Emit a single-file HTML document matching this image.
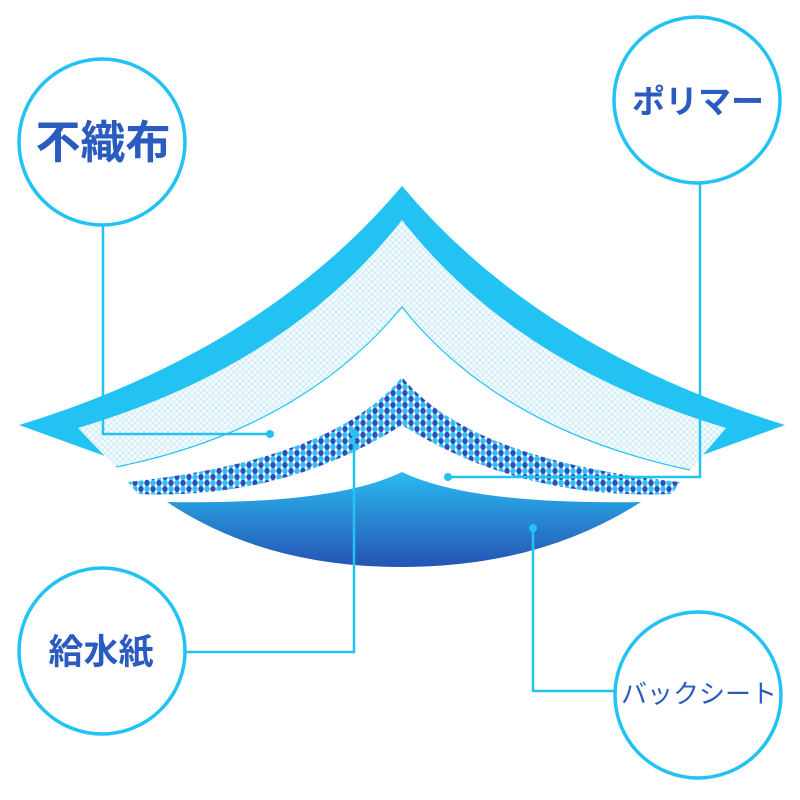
<!DOCTYPE html>
<html><head><meta charset="utf-8"><style>
html,body{margin:0;padding:0;background:#fff;}
svg{display:block;}
text{font-family:"Liberation Sans","Noto Sans CJK JP",sans-serif;fill:#2a5cc0;font-weight:bold;}
</style></head><body>
<svg width="800" height="800" viewBox="0 0 800 800" xmlns="http://www.w3.org/2000/svg">
<defs>
<pattern id="mesh" width="6" height="6" patternUnits="userSpaceOnUse">
<rect width="6" height="6" fill="#f4fbfe"/>
<path d="M0 0L6 6M6 0L0 6" stroke="#b8e6f7" stroke-width="0.6"/>
</pattern>
<pattern id="dots" width="12" height="12" patternUnits="userSpaceOnUse">
<rect width="12" height="12" fill="#fff"/>
<ellipse cx="3" cy="3" rx="2.7" ry="3.2" fill="#2a4fc0"/>
<ellipse cx="9" cy="9" rx="2.7" ry="3.2" fill="#2a4fc0"/>
<ellipse cx="9" cy="3" rx="2.7" ry="3.2" fill="#2fc2ee"/>
<ellipse cx="3" cy="9" rx="2.7" ry="3.2" fill="#2fc2ee"/>
</pattern>
<linearGradient id="blue" x1="0" y1="0" x2="0" y2="1">
<stop offset="0" stop-color="#2bbaf0"/>
<stop offset="1" stop-color="#2453b4"/>
</linearGradient>
</defs>

<path d="M402 186 Q540 350 785 425 L667 468 Q402 470 138 468 L19 425 Q264 350 402 186Z" fill="#22c3f3"/>
<path d="M402 220 Q515 365 726 428 L690 470 L118 470 L78 428 Q289 365 402 220Z" fill="url(#mesh)"/>
<path d="M402 307 Q500 430 690 470 L690 500 L116 500 L116 467 Q300 430 402 307Z" fill="#fff"/>
<path d="M116 467 Q300 430 402 307 Q500 430 690 470" fill="none" stroke="#22c3f3" stroke-width="1.2"/>
<path d="M402 377 Q470 460 680 482 L672 494 Q520 500 402 425 Q284 500 138 494 L128 482 Q334 460 402 377Z" fill="url(#dots)"/>
<path d="M402 472 Q470 505 641 502 Q540 567 402 567 Q264 567 167 502 Q334 505 402 472Z" fill="url(#blue)"/>

<g stroke="#22c3f3" stroke-width="2.5" fill="none">
<path d="M103 226 V434 H270"/>
<path d="M700 183 V477 H448"/>
<path d="M354 433 V652 H186"/>
<path d="M533 528 V691 H614"/>
</g>
<g fill="#22c3f3">
<circle cx="270" cy="434" r="4"/>
<circle cx="448" cy="477" r="4"/>
<circle cx="354" cy="433" r="4"/>
<circle cx="533" cy="528" r="4"/>
</g>

<g stroke="#22c3f3" stroke-width="3.5" fill="#fff">
<circle cx="102" cy="142" r="83"/>
<circle cx="697" cy="100" r="83"/>
<circle cx="102" cy="651" r="83"/>
<circle cx="698" cy="695" r="83"/>
</g>
<text x="103" y="158" font-size="45" text-anchor="middle">不織布</text>
<text x="698" y="113" font-size="33" text-anchor="middle">ポリマー</text>
<text x="101" y="664" font-size="35" text-anchor="middle">給水紙</text>
<text x="699" y="703" font-size="26" text-anchor="middle" style="font-weight:normal">バックシート</text>
</svg>
</body></html>
